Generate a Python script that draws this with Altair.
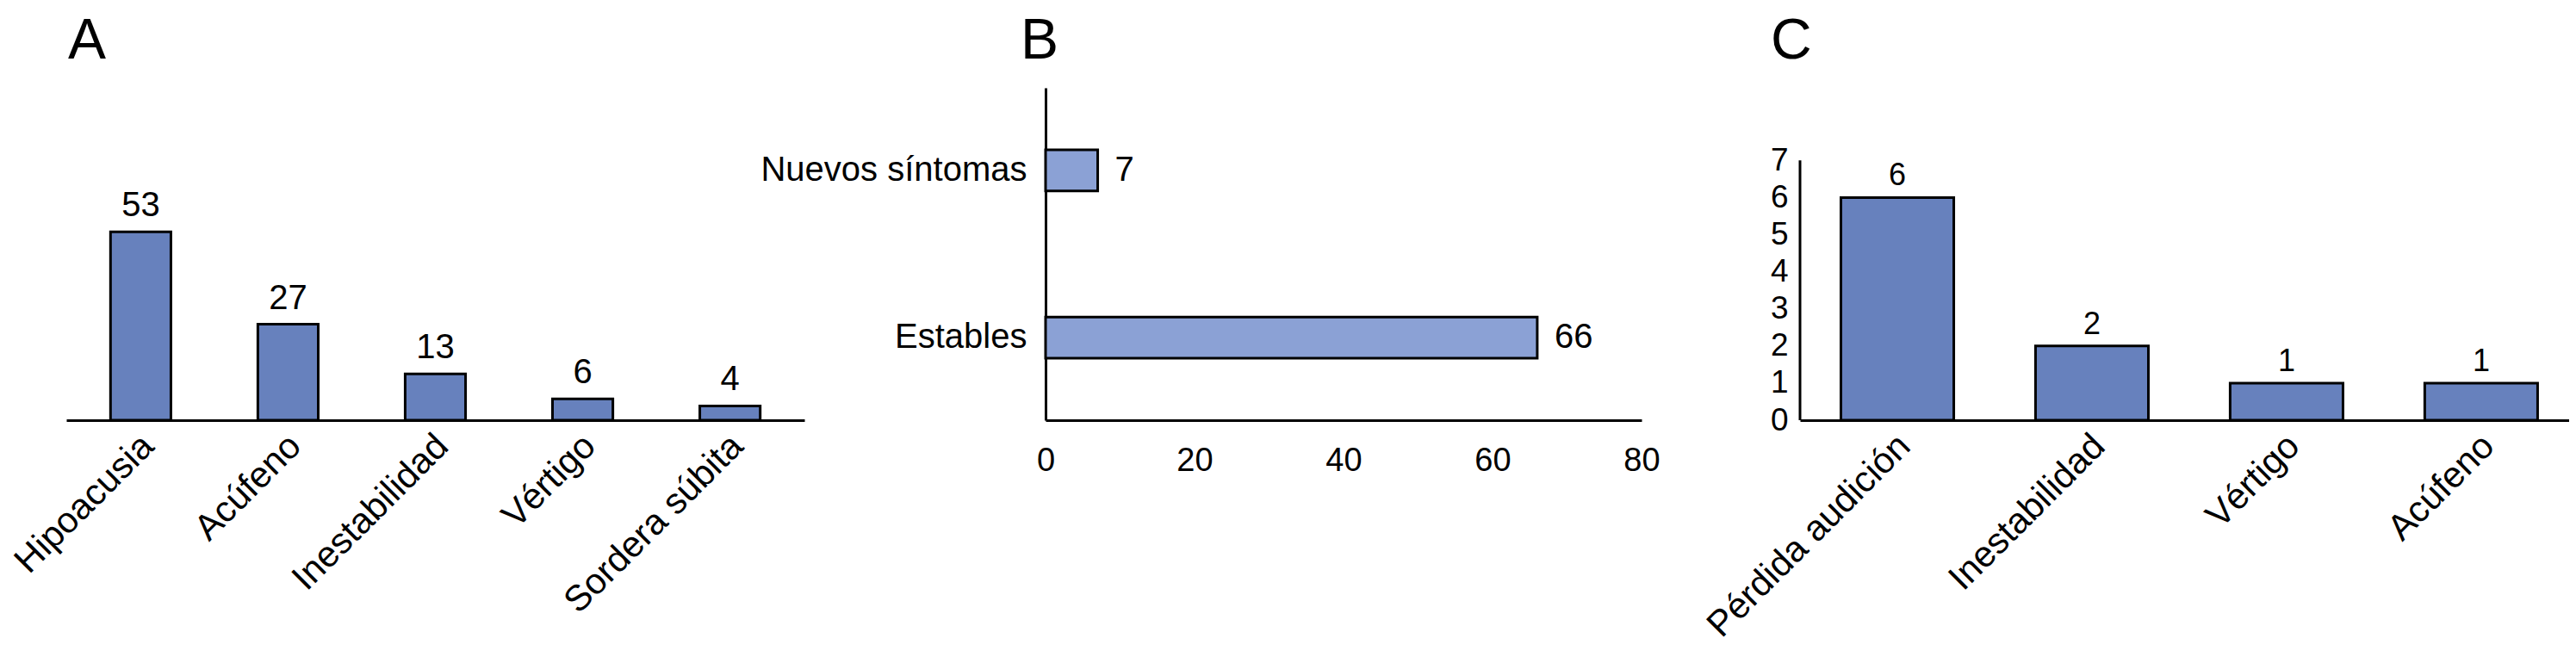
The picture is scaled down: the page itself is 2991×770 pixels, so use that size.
import altair as alt
import pandas as pd

# ---- data ----
a_cats = ["Hipoacusia", "Acúfeno", "Inestabilidad", "Vértigo", "Sordera súbita"]
a_vals = [53, 27, 13, 6, 4]

b_cats = ["Nuevos síntomas", "Estables"]
b_vals = [7, 66]
b_ticks = [0, 20, 40, 60, 80]

c_cats = ["Pérdida audición", "Inestabilidad", "Vértigo", "Acúfeno"]
c_vals = [6, 2, 1, 1]
c_ticks = [0, 1, 2, 3, 4, 5, 6, 7]

FONT = "Liberation Sans"
H = 386
DARK = "#6781BD"
LIGHT = "#8BA1D5"


def title(txt, dx):
    return alt.TitleParams(text=txt, anchor="start", frame="group", fontSize=66,
                           font=FONT, fontWeight="normal", color="black",
                           offset=-32, baseline="alphabetic", dx=dx)


def cat_axis():
    return alt.Axis(labelAngle=-45, labelFontSize=42, labelFont=FONT,
                    labelColor="black", ticks=False, domainColor="black",
                    domainWidth=3, labelPadding=9, labelOffset=-6, labelLimit=600)


# ---- panel A ----
dfa = pd.DataFrame({"cat": a_cats, "val": a_vals})
xa = alt.X("cat:N", sort=a_cats, title=None,
           scale=alt.Scale(paddingInner=0.59, paddingOuter=0.3), axis=cat_axis())
ya = alt.Y("val:Q", scale=alt.Scale(domain=[0, 93.5], nice=False), axis=None)
bars_a = alt.Chart(dfa).mark_bar(color=DARK, stroke="black", strokeWidth=3).encode(x=xa, y=ya)
text_a = alt.Chart(dfa).mark_text(fontSize=40, font=FONT, dy=-18, baseline="alphabetic",
                                  color="black").encode(x=xa, y=ya, text="val:Q")
chart_a = (bars_a + text_a).properties(width=857, height=H, title=title("A", 2))

# ---- panel B ----
dfb = pd.DataFrame({"cat": b_cats, "val": b_vals})
xb = alt.X("val:Q", title=None,
           scale=alt.Scale(domain=[0, 80], nice=False, range=[96, 788]),
           axis=alt.Axis(values=b_ticks, ticks=False, grid=False, labelFontSize=38,
                         labelFont=FONT, labelColor="black", labelPadding=28,
                         domainWidth=3, domainColor="black", labelFlush=False))
yb = alt.Y("cat:N", sort=b_cats, title=None,
           scale=alt.Scale(paddingInner=0.754, paddingOuter=0.37),
           axis=alt.Axis(ticks=False, labelFontSize=40, labelFont=FONT, labelColor="black",
                         labelPadding=22, domainWidth=3, domainColor="black",
                         offset=-96, labelLimit=600))
bars_b = alt.Chart(dfb).mark_bar(color=LIGHT, stroke="black", strokeWidth=3).encode(x=xb, y=yb)
text_b = alt.Chart(dfb).mark_text(fontSize=40, font=FONT, dx=20, align="left",
                                  baseline="middle", color="black").encode(x=xb, y=yb, text="val:Q")
chart_b = (bars_b + text_b).properties(width=788, height=H, title=title("B", 67))

# ---- panel C ----
dfc = pd.DataFrame({"cat": c_cats, "val": c_vals})
xc = alt.X("cat:N", sort=c_cats, title=None,
           scale=alt.Scale(paddingInner=0.42, paddingOuter=0.186, align=0.565),
           axis=cat_axis())
yc = alt.Y("val:Q", title=None, scale=alt.Scale(domain=[0, 8.956], nice=False),
           axis=alt.Axis(values=c_ticks, ticks=False, grid=False, domain=False,
                         labelFontSize=37, labelFont=FONT, labelColor="black",
                         labelPadding=14))
bars_c = alt.Chart(dfc).mark_bar(color=DARK, stroke="black", strokeWidth=3).encode(x=xc, y=yc)
text_c = alt.Chart(dfc).mark_text(fontSize=36, font=FONT, dy=-14, baseline="alphabetic",
                                  color="black").encode(x=xc, y=yc, text="val:Q")
dfr = pd.DataFrame({"val": [c_ticks[0]], "val2": [c_ticks[-1]]})
rule_c = alt.Chart(dfr).mark_rule(color="black", strokeWidth=3).encode(
    x=alt.value(0), y=yc, y2="val2:Q")
chart_c = (bars_c + text_c + rule_c).properties(width=893, height=H, title=title("C", -34))

chart = alt.hconcat(chart_a, chart_b, chart_c, spacing=184, bounds="flush").properties(
    padding={"left": 1, "top": 7, "right": 0, "bottom": 0}
).configure_view(stroke=None)

chart.save("out.html", embed_options={"renderer": "svg", "actions": False})
